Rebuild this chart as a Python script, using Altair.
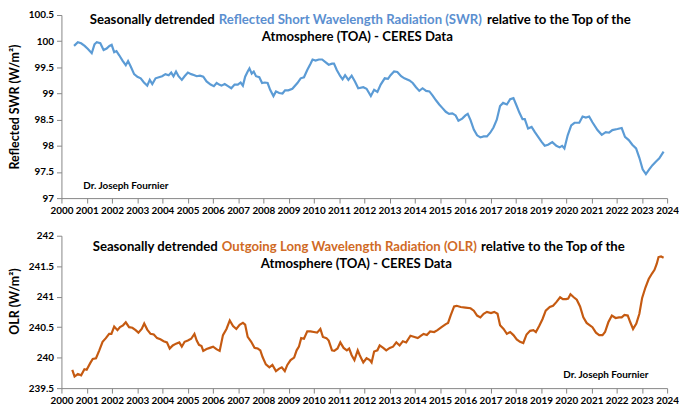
import altair as alt
import pandas as pd

# ---------------- data ----------------
swr_year = [2000.50, 2000.65, 2000.78, 2000.92, 2001.05, 2001.20, 2001.31, 2001.40, 2001.54, 2001.67,
            2001.79, 2001.90, 2001.99, 2002.09, 2002.18, 2002.29, 2002.42, 2002.55, 2002.64, 2002.75,
            2002.88, 2003.01, 2003.14, 2003.27, 2003.40, 2003.50, 2003.60, 2003.73, 2003.86, 2003.99,
            2004.12, 2004.25, 2004.35, 2004.44, 2004.54, 2004.64, 2004.77, 2004.88, 2005.01, 2005.14,
            2005.27, 2005.36, 2005.49, 2005.62, 2005.75, 2005.91, 2006.04, 2006.15, 2006.25, 2006.34,
            2006.47, 2006.60, 2006.73, 2006.86, 2006.99, 2007.10, 2007.19, 2007.28, 2007.38, 2007.45,
            2007.54, 2007.62, 2007.71, 2007.84, 2007.95, 2008.06, 2008.17, 2008.27, 2008.40, 2008.50,
            2008.63, 2008.76, 2008.86, 2008.99, 2009.15, 2009.35, 2009.48, 2009.61, 2009.74, 2009.87,
            2009.95, 2010.07, 2010.20, 2010.33, 2010.46, 2010.59, 2010.72, 2010.80, 2010.91, 2011.05,
            2011.14, 2011.24, 2011.37, 2011.50, 2011.63, 2011.76, 2011.96, 2012.09, 2012.26, 2012.39,
            2012.52, 2012.65, 2012.81, 2012.94, 2013.04, 2013.18, 2013.31, 2013.46, 2013.59, 2013.79,
            2013.92, 2014.05, 2014.18, 2014.31, 2014.45, 2014.58, 2014.71, 2014.84, 2014.97, 2015.10,
            2015.23, 2015.36, 2015.49, 2015.62, 2015.73, 2015.88, 2016.01, 2016.10, 2016.21, 2016.34,
            2016.47, 2016.60, 2016.73, 2016.86, 2016.99, 2017.12, 2017.25, 2017.38, 2017.50, 2017.65,
            2017.78, 2017.91, 2018.04, 2018.14, 2018.27, 2018.36, 2018.49, 2018.63, 2018.76, 2018.89,
            2019.02, 2019.15, 2019.28, 2019.45, 2019.61, 2019.74, 2019.84, 2019.93, 2020.06, 2020.20,
            2020.33, 2020.52, 2020.65, 2020.78, 2020.91, 2021.04, 2021.24, 2021.41, 2021.57, 2021.70,
            2021.83, 2022.03, 2022.20, 2022.33, 2022.48, 2022.62, 2022.77, 2022.90, 2023.03, 2023.16,
            2023.29, 2023.42, 2023.56, 2023.69, 2023.86]
swr_value = [99.91, 99.98, 99.96, 99.91, 99.85, 99.77, 99.94, 99.98, 99.96, 99.83,
             99.86, 99.91, 99.93, 99.79, 99.81, 99.73, 99.63, 99.54, 99.62, 99.51,
             99.37, 99.32, 99.29, 99.21, 99.15, 99.26, 99.18, 99.29, 99.31, 99.33,
             99.37, 99.35, 99.40, 99.33, 99.42, 99.33, 99.26, 99.33, 99.40, 99.37,
             99.35, 99.33, 99.34, 99.32, 99.23, 99.17, 99.14, 99.20, 99.17, 99.15,
             99.18, 99.14, 99.10, 99.17, 99.17, 99.21, 99.15, 99.32, 99.42, 99.48,
             99.38, 99.42, 99.33, 99.31, 99.20, 99.21, 99.20, 99.07, 98.95, 99.04,
             99.01, 99.00, 99.06, 99.06, 99.09, 99.20, 99.29, 99.31, 99.45, 99.57,
             99.65, 99.63, 99.65, 99.65, 99.60, 99.55, 99.57, 99.57, 99.45, 99.33,
             99.27, 99.35, 99.26, 99.34, 99.23, 99.10, 99.12, 99.09, 98.95, 99.07,
             99.03, 99.17, 99.29, 99.28, 99.35, 99.42, 99.41, 99.33, 99.29, 99.25,
             99.20, 99.12, 99.05, 99.10, 99.05, 99.04, 98.96, 98.87, 98.79, 98.72,
             98.65, 98.61, 98.62, 98.58, 98.48, 98.52, 98.58, 98.61, 98.49, 98.31,
             98.20, 98.16, 98.18, 98.18, 98.25, 98.35, 98.50, 98.76, 98.82, 98.79,
             98.89, 98.91, 98.76, 98.64, 98.51, 98.51, 98.33, 98.36, 98.26, 98.17,
             98.08, 98.00, 98.02, 98.07, 98.00, 97.97, 98.00, 97.95, 98.20, 98.39,
             98.44, 98.44, 98.56, 98.54, 98.56, 98.45, 98.30, 98.21, 98.26, 98.25,
             98.30, 98.32, 98.34, 98.17, 98.11, 98.02, 97.95, 97.77, 97.55, 97.46,
             97.55, 97.63, 97.70, 97.76, 97.89]

olr_year = [2000.43, 2000.52, 2000.65, 2000.78, 2000.91, 2001.00, 2001.14, 2001.24, 2001.37, 2001.50,
            2001.63, 2001.76, 2001.89, 2001.98, 2002.09, 2002.22, 2002.32, 2002.44, 2002.55, 2002.68,
            2002.81, 2002.94, 2003.05, 2003.18, 2003.28, 2003.40, 2003.53, 2003.66, 2003.79, 2003.92,
            2004.05, 2004.18, 2004.29, 2004.41, 2004.54, 2004.67, 2004.77, 2004.88, 2005.01, 2005.14,
            2005.27, 2005.36, 2005.45, 2005.55, 2005.62, 2005.75, 2005.88, 2006.01, 2006.14, 2006.27,
            2006.40, 2006.54, 2006.67, 2006.80, 2006.93, 2007.06, 2007.19, 2007.28, 2007.38, 2007.52,
            2007.65, 2007.78, 2007.88, 2007.97, 2008.10, 2008.24, 2008.36, 2008.50, 2008.63, 2008.73,
            2008.85, 2008.95, 2009.08, 2009.22, 2009.32, 2009.41, 2009.50, 2009.61, 2009.74, 2009.87,
            2010.00, 2010.13, 2010.26, 2010.36, 2010.50, 2010.59, 2010.72, 2010.81, 2010.94, 2011.05,
            2011.18, 2011.31, 2011.40, 2011.50, 2011.61, 2011.74, 2011.82, 2011.96, 2012.09, 2012.22,
            2012.29, 2012.39, 2012.52, 2012.61, 2012.75, 2012.87, 2013.01, 2013.14, 2013.27, 2013.40,
            2013.53, 2013.66, 2013.83, 2013.99, 2014.12, 2014.25, 2014.35, 2014.48, 2014.61, 2014.77,
            2014.90, 2015.06, 2015.23, 2015.32, 2015.42, 2015.56, 2015.66, 2015.82, 2016.01, 2016.21,
            2016.34, 2016.47, 2016.60, 2016.73, 2016.86, 2017.02, 2017.15, 2017.28, 2017.38, 2017.52,
            2017.65, 2017.78, 2017.91, 2018.04, 2018.17, 2018.30, 2018.43, 2018.57, 2018.70, 2018.80,
            2018.93, 2019.06, 2019.19, 2019.35, 2019.48, 2019.61, 2019.76, 2019.87, 2020.00, 2020.08,
            2020.17, 2020.30, 2020.42, 2020.55, 2020.68, 2020.81, 2020.94, 2021.04, 2021.18, 2021.31,
            2021.44, 2021.54, 2021.67, 2021.81, 2021.96, 2022.09, 2022.20, 2022.31, 2022.44, 2022.54,
            2022.65, 2022.78, 2022.90, 2023.01, 2023.14, 2023.27, 2023.40, 2023.50, 2023.59, 2023.66,
            2023.76, 2023.86]
olr_value = [239.80, 239.69, 239.73, 239.71, 239.81, 239.80, 239.91, 239.98, 239.99, 240.12,
             240.26, 240.32, 240.39, 240.39, 240.51, 240.45, 240.50, 240.53, 240.58, 240.50,
             240.49, 240.45, 240.41, 240.47, 240.56, 240.46, 240.39, 240.38, 240.32, 240.30,
             240.27, 240.25, 240.15, 240.20, 240.23, 240.25, 240.18, 240.26, 240.28, 240.31,
             240.39, 240.28, 240.21, 240.19, 240.11, 240.14, 240.16, 240.18, 240.14, 240.11,
             240.37, 240.47, 240.61, 240.52, 240.47, 240.54, 240.57, 240.54, 240.34, 240.26,
             240.16, 240.15, 240.12, 240.01, 239.89, 239.84, 239.88, 239.78, 239.82, 239.84,
             239.78, 239.88, 239.96, 240.00, 240.12, 240.18, 240.32, 240.31, 240.43, 240.43,
             240.42, 240.41, 240.47, 240.34, 240.32, 240.28, 240.12, 240.11, 240.15, 240.25,
             240.16, 240.12, 240.15, 240.04, 239.96, 240.12, 240.04, 239.92, 239.99, 239.96,
             239.92, 240.10, 240.12, 240.20, 240.16, 240.12, 240.16, 240.18, 240.25, 240.20,
             240.27, 240.25, 240.36, 240.34, 240.32, 240.36, 240.39, 240.37, 240.43, 240.42,
             240.45, 240.50, 240.55, 240.57, 240.69, 240.84, 240.85, 240.83, 240.82, 240.81,
             240.77, 240.69, 240.66, 240.72, 240.75, 240.73, 240.75, 240.72, 240.53, 240.47,
             240.39, 240.42, 240.37, 240.30, 240.26, 240.24, 240.38, 240.44, 240.45, 240.42,
             240.52, 240.63, 240.77, 240.83, 240.85, 240.91, 240.99, 240.96, 240.96, 240.97,
             241.04, 240.99, 240.95, 240.84, 240.66, 240.57, 240.53, 240.50, 240.41, 240.37,
             240.37, 240.42, 240.58, 240.69, 240.65, 240.66, 240.66, 240.70, 240.69, 240.58,
             240.47, 240.56, 240.72, 240.98, 241.15, 241.29, 241.38, 241.44, 241.54, 241.65,
             241.66, 241.64]

x_ticks = list(range(2000, 2025))
swr_ticks = [97, 97.5, 98, 98.5, 99, 99.5, 100, 100.5]
olr_ticks = [239.5, 240, 240.5, 241, 241.5, 242]

title_pre = "Seasonally detrended"
swr_title_mid = "Reflected Short Wavelength Radiation (SWR)"
olr_title_mid = "Outgoing Long Wavelength Radiation (OLR)"
title_post = "relative to the Top of the"
title_line2 = "Atmosphere (TOA) - CERES Data"
credit = "Dr. Joseph Fournier"

# ---------------- styling ----------------
FONT = "Lato"
BLUE = "#5B9BD5"
BLUE_TXT = "#5B8FD0"
ORANGE = "#C55A11"
ORANGE_TXT = "#D06A25"
AXIS_GRAY = "#868686"
W = 612
TS = 13.3


def txt(s, x, y, color="black", align="left", size=TS):
    return alt.Chart(alt.Data(values=[{"t": s}])).mark_text(
        font=FONT, fontWeight="bold", fontSize=size, color=color,
        align=align, baseline="alphabetic"
    ).encode(text="t:N", x=alt.value(x), y=alt.value(y))


def x_axis():
    return alt.X("year:Q", title=None,
                 scale=alt.Scale(domain=[2000, 2024], nice=False, zero=False),
                 axis=alt.Axis(values=x_ticks, format="d", labelOverlap=False,
                               labelFlush=False, grid=False))


swr_df = pd.DataFrame({"year": swr_year, "value": swr_value})
olr_df = pd.DataFrame({"year": olr_year, "value": olr_value})

TOP_H = 185
BOT_H = 154

swr_line = alt.Chart(swr_df).mark_line(color=BLUE, strokeWidth=2.2).encode(
    x=x_axis(),
    y=alt.Y("value:Q", title="Reflected SWR (W/m²)",
            scale=alt.Scale(domain=[97, 100.5], nice=False, zero=False),
            axis=alt.Axis(values=swr_ticks, format="~g", grid=False)),
)
top = alt.layer(
    swr_line,
    txt(title_pre, 155, 9, align="right"),
    txt(swr_title_mid, 159, 9, color=BLUE_TXT),
    txt(title_post, 430, 9),
    txt(title_line2, 299, 26.5, align="center"),
    txt(credit, 22, 176, size=10),
).properties(width=W, height=TOP_H)

olr_line = alt.Chart(olr_df).mark_line(color=ORANGE, strokeWidth=2.2).encode(
    x=x_axis(),
    y=alt.Y("value:Q", title="OLR (W/m²)",
            scale=alt.Scale(domain=[239.5, 242], nice=False, zero=False),
            axis=alt.Axis(values=olr_ticks, format="~g", grid=False, titleY=66)),
)
bottom = alt.layer(
    olr_line,
    txt(title_pre, 158, 15.7, align="right"),
    txt(olr_title_mid, 162, 15.7, color=ORANGE_TXT),
    txt(title_post, 424, 15.7),
    txt(title_line2, 298, 32.3, align="center"),
    txt(credit, 507, 144, size=10),
).properties(width=W, height=BOT_H)

chart = alt.vconcat(top, bottom, spacing=15).properties(
    padding={"top": 0, "left": 0, "right": 0, "bottom": 0},
    background="white",
).configure_view(stroke=None).configure_axis(
    domainColor=AXIS_GRAY, tickColor=AXIS_GRAY, tickSize=5,
    labelFont=FONT, labelFontWeight="bold", labelFontSize=10, labelColor="black",
    labelPadding=3,
    titleFont=FONT, titleFontWeight="bold", titleFontSize=12.5, titleColor="black",
    titlePadding=7,
)

chart.save("out.html", embed_options={"renderer": "svg", "actions": False})
